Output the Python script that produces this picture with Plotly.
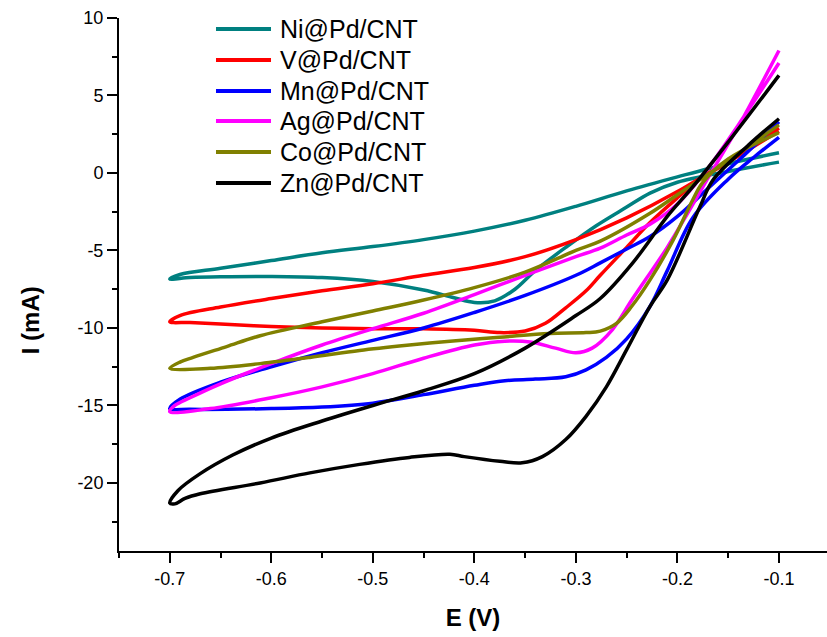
import plotly.graph_objects as go

# ---------------- data ----------------
names = ["Ni@Pd/CNT", "V@Pd/CNT", "Mn@Pd/CNT", "Ag@Pd/CNT", "Co@Pd/CNT", "Zn@Pd/CNT"]
colors = ["#008080", "#FF0000", "#0000FF", "#FF00FF", "#808000", "#000000"]

# Ni
ni_up_E = [-0.7, -0.69, -0.65, -0.6, -0.55, -0.5, -0.45, -0.4, -0.35, -0.3, -0.25, -0.2, -0.15, -0.1]
ni_up_I = [-6.84, -6.55, -6.15, -5.65, -5.15, -4.75, -4.3, -3.75, -3.05, -2.15, -1.15, -0.25, 0.6, 1.3]
ni_lo_E = [-0.7, -0.68, -0.65, -0.6, -0.55, -0.5, -0.45, -0.42, -0.4, -0.38, -0.36, -0.34, -0.31, -0.28, -0.25, -0.227, -0.2, -0.15, -0.1]
ni_lo_I = [-6.84, -6.75, -6.7, -6.68, -6.75, -7.0, -7.55, -8.05, -8.35, -8.25, -7.5, -6.3, -4.8, -3.4, -2.2, -1.3, -0.6, 0.1, 0.7]

# V
v_up_E = [-0.7, -0.69, -0.65, -0.6, -0.55, -0.5, -0.45, -0.4, -0.35, -0.3, -0.25, -0.2, -0.15, -0.1]
v_up_I = [-9.6, -9.2, -8.65, -8.1, -7.6, -7.15, -6.6, -6.1, -5.4, -4.3, -2.9, -1.2, 0.8, 2.9]
v_lo_E = [-0.7, -0.68, -0.65, -0.6, -0.55, -0.5, -0.45, -0.4, -0.375, -0.35, -0.33, -0.31, -0.29, -0.276, -0.25, -0.227, -0.2, -0.18, -0.15, -0.1]
v_lo_I = [-9.6, -9.65, -9.75, -9.9, -10.0, -10.05, -10.05, -10.15, -10.3, -10.2, -9.7, -8.7, -7.6, -6.6, -4.8, -3.2, -1.6, -0.5, 0.7, 2.7]

# Mn
mn_up_E = [-0.7, -0.69, -0.65, -0.6, -0.55, -0.5, -0.45, -0.4, -0.35, -0.3, -0.276, -0.25, -0.227, -0.2, -0.17, -0.14, -0.1]
mn_up_I = [-15.2, -14.6, -13.5, -12.5, -11.6, -10.8, -10.0, -9.0, -7.9, -6.6, -5.8, -4.9, -4.1, -2.8, -1.0, 0.8, 3.3]
mn_lo_E = [-0.7, -0.68, -0.6, -0.55, -0.5, -0.45, -0.4, -0.37, -0.34, -0.31, -0.29, -0.27, -0.25, -0.227, -0.21, -0.185, -0.15, -0.125, -0.1]
mn_lo_I = [-15.2, -15.25, -15.2, -15.1, -14.85, -14.3, -13.7, -13.4, -13.3, -13.15, -12.7, -11.9, -10.7, -8.6, -6.3, -2.9, -0.4, 1.0, 2.3]

# Ag
ag_up_E = [-0.7, -0.695, -0.68, -0.65, -0.6, -0.55, -0.5, -0.45, -0.4, -0.35, -0.3, -0.276, -0.25, -0.227, -0.2, -0.17, -0.14, -0.1]
ag_up_I = [-15.4, -15.0, -14.5, -13.6, -12.3, -11.1, -10.05, -9.05, -7.85, -6.6, -5.4, -4.85, -4.0, -3.3, -2.0, 0.3, 3.1, 7.1]
ag_lo_E = [-0.7, -0.66, -0.6, -0.55, -0.5, -0.45, -0.4, -0.37, -0.345, -0.32, -0.3, -0.284, -0.264, -0.245, -0.21, -0.19, -0.171, -0.14, -0.1]
ag_lo_I = [-15.4, -15.2, -14.5, -13.8, -12.95, -11.95, -11.1, -10.85, -10.9, -11.3, -11.6, -11.3, -10.1, -8.2, -4.8, -2.6, -0.45, 3.0, 7.9]

# Co
co_up_E = [-0.7, -0.69, -0.677, -0.644, -0.611, -0.55, -0.5, -0.45, -0.4, -0.35, -0.3, -0.276, -0.227, -0.2, -0.15, -0.1]
co_up_I = [-12.6, -12.2, -11.9, -11.2, -10.5, -9.6, -8.9, -8.2, -7.4, -6.4, -5.0, -4.4, -2.6, -1.4, 0.8, 3.1]
co_lo_E = [-0.7, -0.66, -0.611, -0.562, -0.513, -0.464, -0.424, -0.375, -0.326, -0.29, -0.276, -0.26, -0.245, -0.227, -0.204, -0.185, -0.175, -0.15, -0.1]
co_lo_I = [-12.6, -12.6, -12.3, -11.9, -11.45, -11.1, -10.85, -10.6, -10.35, -10.3, -10.2, -9.7, -8.6, -6.9, -4.3, -1.74, -0.6, 0.9, 2.6]

# Zn
zn_up_E = [-0.7, -0.692, -0.67, -0.638, -0.6, -0.55, -0.5, -0.45, -0.4, -0.35, -0.3, -0.276, -0.244, -0.21, -0.185, -0.15, -0.1]
zn_up_I = [-21.3, -20.5, -19.4, -18.2, -17.1, -16.0, -15.0, -14.05, -12.95, -11.3, -9.2, -8.1, -5.8, -2.8, -0.9, 2.0, 6.3]
zn_lo_E = [-0.7, -0.695, -0.685, -0.67, -0.611, -0.562, -0.513, -0.464, -0.424, -0.41, -0.375, -0.353, -0.333, -0.31, -0.29, -0.27, -0.25, -0.227, -0.21, -0.178, -0.165, -0.13, -0.1]
zn_lo_I = [-21.3, -21.35, -21.0, -20.7, -20.0, -19.35, -18.8, -18.35, -18.15, -18.3, -18.6, -18.7, -18.3, -17.2, -15.7, -13.8, -11.4, -8.6, -6.9, -2.2, -0.45, 1.8, 3.5]

series = [
    (ni_up_E, ni_up_I, ni_lo_E, ni_lo_I),
    (v_up_E, v_up_I, v_lo_E, v_lo_I),
    (mn_up_E, mn_up_I, mn_lo_E, mn_lo_I),
    (ag_up_E, ag_up_I, ag_lo_E, ag_lo_I),
    (co_up_E, co_up_I, co_lo_E, co_lo_I),
    (zn_up_E, zn_up_I, zn_lo_E, zn_lo_I),
]

x_tickvals = [-0.7, -0.6, -0.5, -0.4, -0.3, -0.2, -0.1]
x_ticktext = ["-0.7", "-0.6", "-0.5", "-0.4", "-0.3", "-0.2", "-0.1"]
y_tickvals = [-20, -15, -10, -5, 0, 5, 10]
y_ticktext = ["-20", "-15", "-10", "-5", "0", "5", "10"]

FONT = "Arial, 'Liberation Sans', sans-serif"

fig = go.Figure()
for (uE, uI, lE, lI), name, col in zip(series, names, colors):
    xs = list(reversed(uE)) + lE[1:]
    ys = list(reversed(uI)) + lI[1:]
    fig.add_trace(go.Scatter(x=xs, y=ys, mode="lines", name=name,
                             line=dict(color=col, width=3.5, shape="spline", smoothing=1.0),
                             showlegend=False))

# custom legend (lines + text) in paper coordinates
leg_y = [0.9794, 0.9212, 0.8630, 0.8068, 0.7486, 0.6904]
for name, col, yy in zip(names, colors, leg_y):
    fig.add_shape(type="line", xref="paper", yref="paper", x0=0.137, x1=0.2147, y0=yy, y1=yy,
                  line=dict(color=col, width=4))
    fig.add_annotation(xref="paper", yref="paper", x=0.224, y=yy, text=name, showarrow=False,
                       xanchor="left", yanchor="middle", font=dict(family=FONT, size=25, color="black"))

# y-axis title
fig.add_annotation(xref="paper", yref="paper", x=0, y=0.433, xshift=-89, text="<b>I (mA)</b>",
                   textangle=-90, showarrow=False, xanchor="center", yanchor="middle",
                   font=dict(family=FONT, size=24, color="black"))

fig.update_layout(
    width=827, height=637,
    margin=dict(l=119, r=0, t=18, b=86),
    paper_bgcolor="white", plot_bgcolor="white",
    font=dict(family=FONT, color="black"),
    xaxis=dict(range=[-0.75, -0.0527], showgrid=False, zeroline=False, showline=True,
               linecolor="black", linewidth=2, ticks="outside", ticklen=10, tickwidth=2,
               tickcolor="black", tickvals=x_tickvals, ticktext=x_ticktext,
               tickfont=dict(family=FONT, size=18, color="black"),
               minor=dict(dtick=0.05, tick0=-0.75, ticks="outside", ticklen=5, tickwidth=2, tickcolor="black"),
               title=dict(text="<b>E (V)</b>", font=dict(family=FONT, size=24, color="black"), standoff=22)),
    yaxis=dict(range=[-24.39, 10.0], showgrid=False, zeroline=False, showline=True,
               linecolor="black", linewidth=2, ticks="outside", ticklen=10, tickwidth=2,
               tickcolor="black", tickvals=y_tickvals, ticktext=y_ticktext,
               tickfont=dict(family=FONT, size=18, color="black"),
               minor=dict(dtick=2.5, tick0=0, ticks="outside", ticklen=5, tickwidth=2, tickcolor="black")),
)

fig.write_html("out.html")
